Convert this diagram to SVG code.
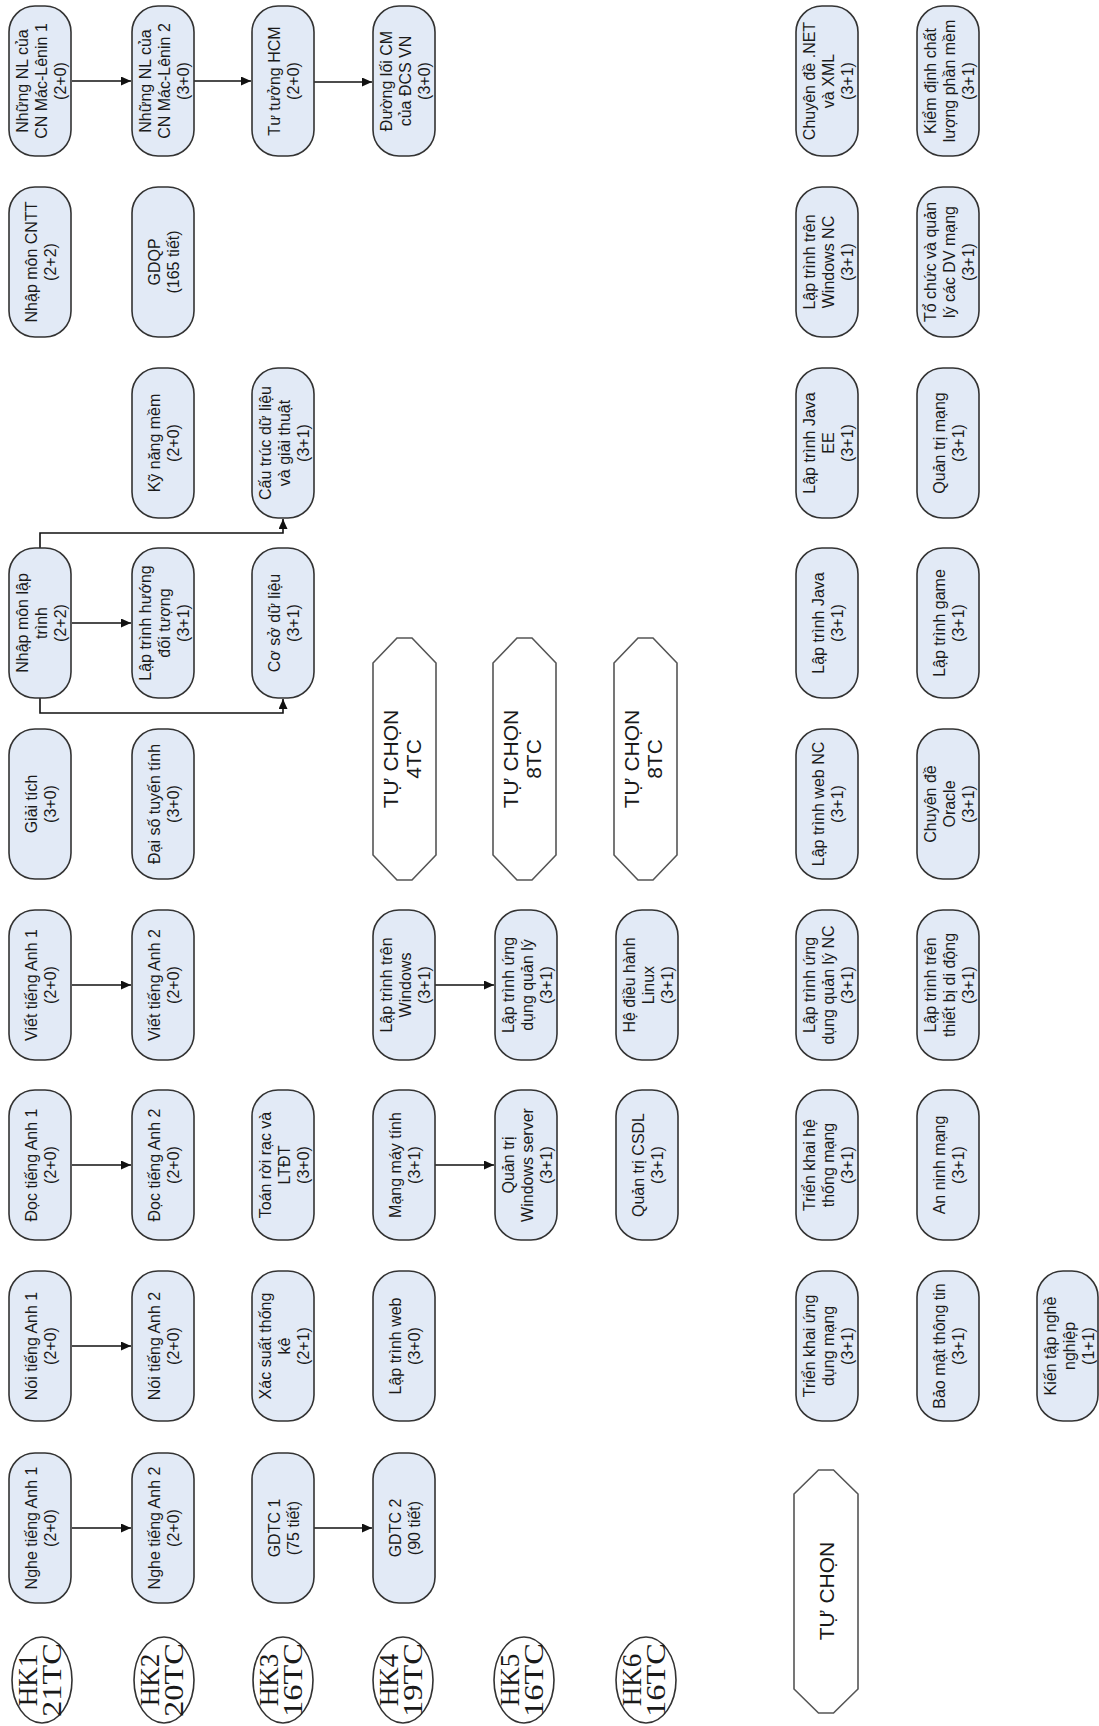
<svg xmlns="http://www.w3.org/2000/svg" width="1099" height="1726" viewBox="0 0 1099 1726">
<style>
.node rect{fill:#e2eaf6;stroke:#333;stroke-width:1.6}
.hex polygon{fill:#fff;stroke:#555;stroke-width:1.6}
.hk ellipse{fill:#fff;stroke:#333;stroke-width:1.6}
text{font-family:"Liberation Sans",Arial,sans-serif;fill:#1a1a1a;text-anchor:middle}
.t{font-size:16px}
.ht{font-size:21px}
.hkt{font-family:"Liberation Serif","Times New Roman",serif;font-size:27px}
.conn path{fill:none;stroke:#111;stroke-width:1.6}
</style>
<defs>
<marker id="arr" markerUnits="userSpaceOnUse" markerWidth="11" markerHeight="9" refX="10" refY="4.5" orient="auto">
<path d="M0,0 L10,4.5 L0,9 z" fill="#111"/>
</marker>
</defs>
<rect width="1099" height="1726" fill="#fff"/>

<g id="connectors" class="conn">
<path d="M72,81 H131" marker-end="url(#arr)"/>
<path d="M194,81 H251" marker-end="url(#arr)"/>
<path d="M314,82 H372" marker-end="url(#arr)"/>
<path d="M72,623 H131" marker-end="url(#arr)"/>
<path d="M40,548 V533 H283 V519" marker-end="url(#arr)"/>
<path d="M40,698 V713 H283 V699" marker-end="url(#arr)"/>
<path d="M72,985 H131" marker-end="url(#arr)"/>
<path d="M72,1165 H131" marker-end="url(#arr)"/>
<path d="M72,1346 H131" marker-end="url(#arr)"/>
<path d="M72,1528 H131" marker-end="url(#arr)"/>
<path d="M314,1528 H372" marker-end="url(#arr)"/>
<path d="M435,985 H494" marker-end="url(#arr)"/>
<path d="M435,1165 H494" marker-end="url(#arr)"/>
</g>

<!-- Column HK1 -->
<g id="n-nl1" class="node"><rect x="9" y="6" width="62" height="150" rx="26"/><text class="t" transform="translate(40,81) rotate(-90)"><tspan x="0" y="-12.5">Những NL của</tspan><tspan x="0" y="6.5">CN Mác-Lênin 1</tspan><tspan x="0" y="25.5">(2+0)</tspan></text></g>
<g id="n-nmcntt" class="node"><rect x="9" y="187" width="62" height="150" rx="26"/><text class="t" transform="translate(40,262) rotate(-90)"><tspan x="0" y="-3">Nhập môn CNTT</tspan><tspan x="0" y="16">(2+2)</tspan></text></g>
<g id="n-nmlt" class="node"><rect x="9" y="548" width="62" height="150" rx="26"/><text class="t" transform="translate(40,623) rotate(-90)"><tspan x="0" y="-12.5">Nhập môn lập</tspan><tspan x="0" y="6.5">trình</tspan><tspan x="0" y="25.5">(2+2)</tspan></text></g>
<g id="n-giaitich" class="node"><rect x="9" y="729" width="62" height="150" rx="26"/><text class="t" transform="translate(40,804) rotate(-90)"><tspan x="0" y="-3">Giải tích</tspan><tspan x="0" y="16">(3+0)</tspan></text></g>
<g id="n-viet1" class="node"><rect x="9" y="910" width="62" height="150" rx="26"/><text class="t" transform="translate(40,985) rotate(-90)"><tspan x="0" y="-3">Viết tiếng Anh 1</tspan><tspan x="0" y="16">(2+0)</tspan></text></g>
<g id="n-doc1" class="node"><rect x="9" y="1090" width="62" height="150" rx="26"/><text class="t" transform="translate(40,1165) rotate(-90)"><tspan x="0" y="-3">Đọc tiếng Anh 1</tspan><tspan x="0" y="16">(2+0)</tspan></text></g>
<g id="n-noi1" class="node"><rect x="9" y="1271" width="62" height="150" rx="26"/><text class="t" transform="translate(40,1346) rotate(-90)"><tspan x="0" y="-3">Nói tiếng Anh 1</tspan><tspan x="0" y="16">(2+0)</tspan></text></g>
<g id="n-nghe1" class="node"><rect x="9" y="1453" width="62" height="150" rx="26"/><text class="t" transform="translate(40,1528) rotate(-90)"><tspan x="0" y="-3">Nghe tiếng Anh 1</tspan><tspan x="0" y="16">(2+0)</tspan></text></g>
<g id="hk1" class="hk"><ellipse cx="42" cy="1680" rx="30" ry="43"/><text class="hkt" transform="translate(42,1680) rotate(-90)"><tspan x="0" y="-5">HK1</tspan><tspan x="0" y="18.5" textLength="74" lengthAdjust="spacingAndGlyphs">21TC</tspan></text></g>

<!-- Column HK2 -->
<g id="n-nl2" class="node"><rect x="132" y="6" width="62" height="150" rx="26"/><text class="t" transform="translate(163,81) rotate(-90)"><tspan x="0" y="-12.5">Những NL của</tspan><tspan x="0" y="6.5">CN Mác-Lênin 2</tspan><tspan x="0" y="25.5">(3+0)</tspan></text></g>
<g id="n-gdqp" class="node"><rect x="132" y="187" width="62" height="150" rx="26"/><text class="t" transform="translate(163,262) rotate(-90)"><tspan x="0" y="-3">GDQP</tspan><tspan x="0" y="16">(165 tiết)</tspan></text></g>
<g id="n-knm" class="node"><rect x="132" y="368" width="62" height="150" rx="26"/><text class="t" transform="translate(163,443) rotate(-90)"><tspan x="0" y="-3">Kỹ năng mềm</tspan><tspan x="0" y="16">(2+0)</tspan></text></g>
<g id="n-lthdt" class="node"><rect x="132" y="548" width="62" height="150" rx="26"/><text class="t" transform="translate(163,623) rotate(-90)"><tspan x="0" y="-12.5">Lập trình hướng</tspan><tspan x="0" y="6.5">đối tượng</tspan><tspan x="0" y="25.5">(3+1)</tspan></text></g>
<g id="n-dstt" class="node"><rect x="132" y="729" width="62" height="150" rx="26"/><text class="t" transform="translate(163,804) rotate(-90)"><tspan x="0" y="-3">Đại số tuyến tính</tspan><tspan x="0" y="16">(3+0)</tspan></text></g>
<g id="n-viet2" class="node"><rect x="132" y="910" width="62" height="150" rx="26"/><text class="t" transform="translate(163,985) rotate(-90)"><tspan x="0" y="-3">Viết tiếng Anh 2</tspan><tspan x="0" y="16">(2+0)</tspan></text></g>
<g id="n-doc2" class="node"><rect x="132" y="1090" width="62" height="150" rx="26"/><text class="t" transform="translate(163,1165) rotate(-90)"><tspan x="0" y="-3">Đọc tiếng Anh 2</tspan><tspan x="0" y="16">(2+0)</tspan></text></g>
<g id="n-noi2" class="node"><rect x="132" y="1271" width="62" height="150" rx="26"/><text class="t" transform="translate(163,1346) rotate(-90)"><tspan x="0" y="-3">Nói tiếng Anh 2</tspan><tspan x="0" y="16">(2+0)</tspan></text></g>
<g id="n-nghe2" class="node"><rect x="132" y="1453" width="62" height="150" rx="26"/><text class="t" transform="translate(163,1528) rotate(-90)"><tspan x="0" y="-3">Nghe tiếng Anh 2</tspan><tspan x="0" y="16">(2+0)</tspan></text></g>
<g id="hk2" class="hk"><ellipse cx="164" cy="1680" rx="30" ry="43"/><text class="hkt" transform="translate(164,1680) rotate(-90)"><tspan x="0" y="-5">HK2</tspan><tspan x="0" y="18.5" textLength="74" lengthAdjust="spacingAndGlyphs">20TC</tspan></text></g>

<!-- Column HK3 -->
<g id="n-tthcm" class="node"><rect x="252" y="6" width="62" height="150" rx="26"/><text class="t" transform="translate(283,81) rotate(-90)"><tspan x="0" y="-3">Tư tưởng HCM</tspan><tspan x="0" y="16">(2+0)</tspan></text></g>
<g id="n-ctdl" class="node"><rect x="252" y="368" width="62" height="150" rx="26"/><text class="t" transform="translate(283,443) rotate(-90)"><tspan x="0" y="-12.5">Cấu trúc dữ liệu</tspan><tspan x="0" y="6.5">và giải thuật</tspan><tspan x="0" y="25.5">(3+1)</tspan></text></g>
<g id="n-csdl" class="node"><rect x="252" y="548" width="62" height="150" rx="26"/><text class="t" transform="translate(283,623) rotate(-90)"><tspan x="0" y="-3">Cơ sở dữ liệu</tspan><tspan x="0" y="16">(3+1)</tspan></text></g>
<g id="n-trr" class="node"><rect x="252" y="1090" width="62" height="150" rx="26"/><text class="t" transform="translate(283,1165) rotate(-90)"><tspan x="0" y="-12.5">Toán rời rạc và</tspan><tspan x="0" y="6.5">LTĐT</tspan><tspan x="0" y="25.5">(3+0)</tspan></text></g>
<g id="n-xstk" class="node"><rect x="252" y="1271" width="62" height="150" rx="26"/><text class="t" transform="translate(283,1346) rotate(-90)"><tspan x="0" y="-12.5">Xác suất thống</tspan><tspan x="0" y="6.5">kê</tspan><tspan x="0" y="25.5">(2+1)</tspan></text></g>
<g id="n-gdtc1" class="node"><rect x="252" y="1453" width="62" height="150" rx="26"/><text class="t" transform="translate(283,1528) rotate(-90)"><tspan x="0" y="-3">GDTC 1</tspan><tspan x="0" y="16">(75 tiết)</tspan></text></g>
<g id="hk3" class="hk"><ellipse cx="283" cy="1680" rx="30" ry="43"/><text class="hkt" transform="translate(283,1680) rotate(-90)"><tspan x="0" y="-5">HK3</tspan><tspan x="0" y="18.5" textLength="74" lengthAdjust="spacingAndGlyphs">16TC</tspan></text></g>

<!-- Column HK4 -->
<g id="n-dlcm" class="node"><rect x="373" y="6" width="62" height="150" rx="26"/><text class="t" transform="translate(404,81) rotate(-90)"><tspan x="0" y="-12.5">Đường lối CM</tspan><tspan x="0" y="6.5">của ĐCS VN</tspan><tspan x="0" y="25.5">(3+0)</tspan></text></g>
<g id="h-tc4" class="hex"><polygon points="397,638 412,638 436,663 436,855 412,880 397,880 373,855 373,663"/><text class="ht" transform="translate(404.5,759) rotate(-90)"><tspan x="0" y="-6.5">TỰ CHỌN</tspan><tspan x="0" y="16.5">4TC</tspan></text></g>
<g id="n-ltwin" class="node"><rect x="373" y="910" width="62" height="150" rx="26"/><text class="t" transform="translate(404,985) rotate(-90)"><tspan x="0" y="-12.5">Lập trình trên</tspan><tspan x="0" y="6.5">Windows</tspan><tspan x="0" y="25.5">(3+1)</tspan></text></g>
<g id="n-mmt" class="node"><rect x="373" y="1090" width="62" height="150" rx="26"/><text class="t" transform="translate(404,1165) rotate(-90)"><tspan x="0" y="-3">Mạng máy tính</tspan><tspan x="0" y="16">(3+1)</tspan></text></g>
<g id="n-ltweb" class="node"><rect x="373" y="1271" width="62" height="150" rx="26"/><text class="t" transform="translate(404,1346) rotate(-90)"><tspan x="0" y="-3">Lập trình web</tspan><tspan x="0" y="16">(3+0)</tspan></text></g>
<g id="n-gdtc2" class="node"><rect x="373" y="1453" width="62" height="150" rx="26"/><text class="t" transform="translate(404,1528) rotate(-90)"><tspan x="0" y="-3">GDTC 2</tspan><tspan x="0" y="16">(90 tiết)</tspan></text></g>
<g id="hk4" class="hk"><ellipse cx="403" cy="1680" rx="30" ry="43"/><text class="hkt" transform="translate(403,1680) rotate(-90)"><tspan x="0" y="-5">HK4</tspan><tspan x="0" y="18.5" textLength="74" lengthAdjust="spacingAndGlyphs">19TC</tspan></text></g>

<!-- Column HK5 -->
<g id="h-tc8a" class="hex"><polygon points="517,638 532,638 556,663 556,855 532,880 517,880 493,855 493,663"/><text class="ht" transform="translate(524.5,759) rotate(-90)"><tspan x="0" y="-6.5">TỰ CHỌN</tspan><tspan x="0" y="16.5">8TC</tspan></text></g>
<g id="n-ltudql" class="node"><rect x="495" y="910" width="62" height="150" rx="26"/><text class="t" transform="translate(526,985) rotate(-90)"><tspan x="0" y="-12.5">Lập trình ứng</tspan><tspan x="0" y="6.5">dụng quản lý</tspan><tspan x="0" y="25.5">(3+1)</tspan></text></g>
<g id="n-qtws" class="node"><rect x="495" y="1090" width="62" height="150" rx="26"/><text class="t" transform="translate(526,1165) rotate(-90)"><tspan x="0" y="-12.5">Quản trị</tspan><tspan x="0" y="6.5">Windows server</tspan><tspan x="0" y="25.5">(3+1)</tspan></text></g>
<g id="hk5" class="hk"><ellipse cx="524" cy="1680" rx="30" ry="43"/><text class="hkt" transform="translate(524,1680) rotate(-90)"><tspan x="0" y="-5">HK5</tspan><tspan x="0" y="18.5" textLength="74" lengthAdjust="spacingAndGlyphs">16TC</tspan></text></g>

<!-- Column HK6 -->
<g id="h-tc8b" class="hex"><polygon points="638,638 653,638 677,663 677,855 653,880 638,880 614,855 614,663"/><text class="ht" transform="translate(645.5,759) rotate(-90)"><tspan x="0" y="-6.5">TỰ CHỌN</tspan><tspan x="0" y="16.5">8TC</tspan></text></g>
<g id="n-linux" class="node"><rect x="616" y="910" width="62" height="150" rx="26"/><text class="t" transform="translate(647,985) rotate(-90)"><tspan x="0" y="-12.5">Hệ điều hành</tspan><tspan x="0" y="6.5">Linux</tspan><tspan x="0" y="25.5">(3+1)</tspan></text></g>
<g id="n-qtcsdl" class="node"><rect x="616" y="1090" width="62" height="150" rx="26"/><text class="t" transform="translate(647,1165) rotate(-90)"><tspan x="0" y="-3">Quản trị CSDL</tspan><tspan x="0" y="16">(3+1)</tspan></text></g>
<g id="hk6" class="hk"><ellipse cx="646" cy="1680" rx="30" ry="43"/><text class="hkt" transform="translate(646,1680) rotate(-90)"><tspan x="0" y="-5">HK6</tspan><tspan x="0" y="18.5" textLength="74" lengthAdjust="spacingAndGlyphs">16TC</tspan></text></g>

<!-- Electives column A -->
<g id="n-net" class="node"><rect x="796" y="6" width="62" height="150" rx="26"/><text class="t" transform="translate(827,81) rotate(-90)"><tspan x="0" y="-12.5">Chuyên đề .NET</tspan><tspan x="0" y="6.5">và XML</tspan><tspan x="0" y="25.5">(3+1)</tspan></text></g>
<g id="n-winnc" class="node"><rect x="796" y="187" width="62" height="150" rx="26"/><text class="t" transform="translate(827,262) rotate(-90)"><tspan x="0" y="-12.5">Lập trình trên</tspan><tspan x="0" y="6.5">Windows NC</tspan><tspan x="0" y="25.5">(3+1)</tspan></text></g>
<g id="n-javaee" class="node"><rect x="796" y="368" width="62" height="150" rx="26"/><text class="t" transform="translate(827,443) rotate(-90)"><tspan x="0" y="-12.5">Lập trình Java</tspan><tspan x="0" y="6.5">EE</tspan><tspan x="0" y="25.5">(3+1)</tspan></text></g>
<g id="n-java" class="node"><rect x="796" y="548" width="62" height="150" rx="26"/><text class="t" transform="translate(827,623) rotate(-90)"><tspan x="0" y="-3">Lập trình Java</tspan><tspan x="0" y="16">(3+1)</tspan></text></g>
<g id="n-webnc" class="node"><rect x="796" y="729" width="62" height="150" rx="26"/><text class="t" transform="translate(827,804) rotate(-90)"><tspan x="0" y="-3">Lập trình web NC</tspan><tspan x="0" y="16">(3+1)</tspan></text></g>
<g id="n-udqlnc" class="node"><rect x="796" y="910" width="62" height="150" rx="26"/><text class="t" transform="translate(827,985) rotate(-90)"><tspan x="0" y="-12.5">Lập trình ứng</tspan><tspan x="0" y="6.5">dụng quản lý NC</tspan><tspan x="0" y="25.5">(3+1)</tspan></text></g>
<g id="n-tkhtm" class="node"><rect x="796" y="1090" width="62" height="150" rx="26"/><text class="t" transform="translate(827,1165) rotate(-90)"><tspan x="0" y="-12.5">Triển khai hệ</tspan><tspan x="0" y="6.5">thống mạng</tspan><tspan x="0" y="25.5">(3+1)</tspan></text></g>
<g id="n-tkudm" class="node"><rect x="796" y="1271" width="62" height="150" rx="26"/><text class="t" transform="translate(827,1346) rotate(-90)"><tspan x="0" y="-12.5">Triển khai ứng</tspan><tspan x="0" y="6.5">dụng mạng</tspan><tspan x="0" y="25.5">(3+1)</tspan></text></g>
<g id="h-tc" class="hex"><polygon points="818.5,1470 833.5,1470 858,1494 858,1689 833.5,1713 818.5,1713 794,1689 794,1494"/><text class="ht" transform="translate(826,1591) rotate(-90)"><tspan x="0" y="7.5">TỰ CHỌN</tspan></text></g>

<!-- Electives column B -->
<g id="n-kdcl" class="node"><rect x="917" y="6" width="62" height="150" rx="26"/><text class="t" transform="translate(948,81) rotate(-90)"><tspan x="0" y="-12.5">Kiểm định chất</tspan><tspan x="0" y="6.5">lượng phần mềm</tspan><tspan x="0" y="25.5">(3+1)</tspan></text></g>
<g id="n-tcql" class="node"><rect x="917" y="187" width="62" height="150" rx="26"/><text class="t" transform="translate(948,262) rotate(-90)"><tspan x="0" y="-12.5">Tổ chức và quản</tspan><tspan x="0" y="6.5">lý các DV mạng</tspan><tspan x="0" y="25.5">(3+1)</tspan></text></g>
<g id="n-qtm" class="node"><rect x="917" y="368" width="62" height="150" rx="26"/><text class="t" transform="translate(948,443) rotate(-90)"><tspan x="0" y="-3">Quản trị mạng</tspan><tspan x="0" y="16">(3+1)</tspan></text></g>
<g id="n-game" class="node"><rect x="917" y="548" width="62" height="150" rx="26"/><text class="t" transform="translate(948,623) rotate(-90)"><tspan x="0" y="-3">Lập trình game</tspan><tspan x="0" y="16">(3+1)</tspan></text></g>
<g id="n-oracle" class="node"><rect x="917" y="729" width="62" height="150" rx="26"/><text class="t" transform="translate(948,804) rotate(-90)"><tspan x="0" y="-12.5">Chuyên đề</tspan><tspan x="0" y="6.5">Oracle</tspan><tspan x="0" y="25.5">(3+1)</tspan></text></g>
<g id="n-mobile" class="node"><rect x="917" y="910" width="62" height="150" rx="26"/><text class="t" transform="translate(948,985) rotate(-90)"><tspan x="0" y="-12.5">Lập trình trên</tspan><tspan x="0" y="6.5">thiết bị di động</tspan><tspan x="0" y="25.5">(3+1)</tspan></text></g>
<g id="n-anm" class="node"><rect x="917" y="1090" width="62" height="150" rx="26"/><text class="t" transform="translate(948,1165) rotate(-90)"><tspan x="0" y="-3">An ninh mạng</tspan><tspan x="0" y="16">(3+1)</tspan></text></g>
<g id="n-bmtt" class="node"><rect x="917" y="1271" width="62" height="150" rx="26"/><text class="t" transform="translate(948,1346) rotate(-90)"><tspan x="0" y="-3">Bảo mật thông tin</tspan><tspan x="0" y="16">(3+1)</tspan></text></g>

<!-- Column C -->
<g id="n-ktnn" class="node"><rect x="1037" y="1271" width="61" height="150" rx="26"/><text class="t" transform="translate(1068,1346) rotate(-90)"><tspan x="0" y="-12.5">Kiến tập nghề</tspan><tspan x="0" y="6.5">nghiệp</tspan><tspan x="0" y="25.5">(1+1)</tspan></text></g>
</svg>
